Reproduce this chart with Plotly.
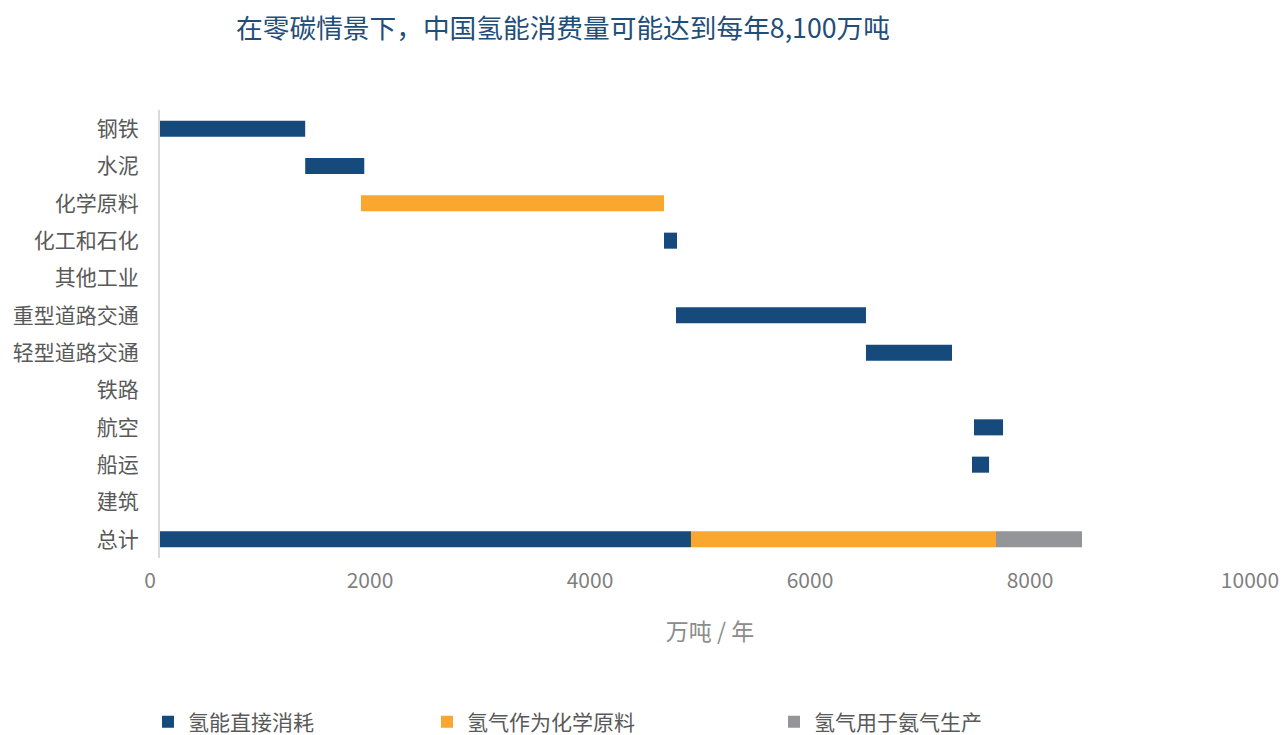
import plotly.graph_objects as go

categories = ["钢铁", "水泥", "化学原料", "化工和石化", "其他工业", "重型道路交通",
              "轻型道路交通", "铁路", "航空", "船运", "建筑", "总计"]

# 氢能直接消耗 (blue): start and length per category
direct_cats = ["钢铁", "水泥", "化工和石化", "重型道路交通", "轻型道路交通", "航空", "船运", "总计"]
direct_base = [0, 1320, 4582, 4691, 6418, 7400, 7382, 0]
direct_vals = [1320, 537, 118, 1727, 782, 264, 155, 4827]

# 氢气作为化学原料 (orange)
feed_cats = ["化学原料", "总计"]
feed_base = [1827, 4827]
feed_vals = [2755, 2773]

# 氢气用于氨气生产 (gray)
ammonia_cats = ["总计"]
ammonia_base = [7600]
ammonia_vals = [782]

series_names = ["氢能直接消耗", "氢气作为化学原料", "氢气用于氨气生产"]
colors = ["#164a7c", "#f9a72e", "#939598"]

FONT = "Noto Sans CJK SC"
W, H = 1280, 727  # page body has an 8px margin

fig = go.Figure()
fig.add_trace(go.Bar(y=direct_cats, x=direct_vals, base=direct_base, orientation="h",
                     name=series_names[0], marker=dict(color=colors[0], line=dict(width=0)),
                     width=0.43, legend="legend"))
fig.add_trace(go.Bar(y=feed_cats, x=feed_vals, base=feed_base, orientation="h",
                     name=series_names[1], marker=dict(color=colors[1], line=dict(width=0)),
                     width=0.43, legend="legend2"))
fig.add_trace(go.Bar(y=ammonia_cats, x=ammonia_vals, base=ammonia_base, orientation="h",
                     name=series_names[2], marker=dict(color=colors[2], line=dict(width=0)),
                     width=0.43, legend="legend3"))

legend_common = dict(xref="container", yref="container", yanchor="middle", y=1 - 714 / H,
                     xanchor="left", font=dict(family=FONT, size=21, color="#595959"),
                     bgcolor="rgba(0,0,0,0)", borderwidth=0)

fig.update_layout(
    width=W, height=H,
    barmode="overlay",
    plot_bgcolor="white", paper_bgcolor="white",
    margin=dict(l=152, r=28, t=102, b=177, autoexpand=False),
    font=dict(family=FONT),
    title=dict(text="在零碳情景下，中国氢能消费量可能达到每年8,100万吨",
               x=555 / W, xanchor="center", xref="container",
               y=1 - 21 / H, yanchor="middle", yref="container",
               font=dict(family=FONT, size=26.7, color="#1f4e79")),
    showlegend=True,
    legend=dict(x=140 / W, **legend_common),
    legend2=dict(x=419 / W, **legend_common),
    legend3=dict(x=766 / W, **legend_common),
    xaxis=dict(range=[0, 10000], dtick=2000, tick0=0, tickformat="d", showgrid=False,
               zeroline=False, showline=False, ticks="", ticklabelstandoff=8,
               ticklabelshift=-10, automargin=False,
               tickfont=dict(family=FONT, size=21, color="#7f7f7f"),
               title=dict(text="万吨 / 年", standoff=30,
                          font=dict(family=FONT, size=23, color="#8c8c8c"))),
    yaxis=dict(categoryorder="array", categoryarray=categories, autorange="reversed",
               showgrid=False, zeroline=False, showline=True, linecolor="#d9d9d9",
               linewidth=2, ticks="", ticklabelstandoff=15, automargin=False,
               tickfont=dict(family=FONT, size=21, color="#595959")),
)

fig.write_html("out.html")
